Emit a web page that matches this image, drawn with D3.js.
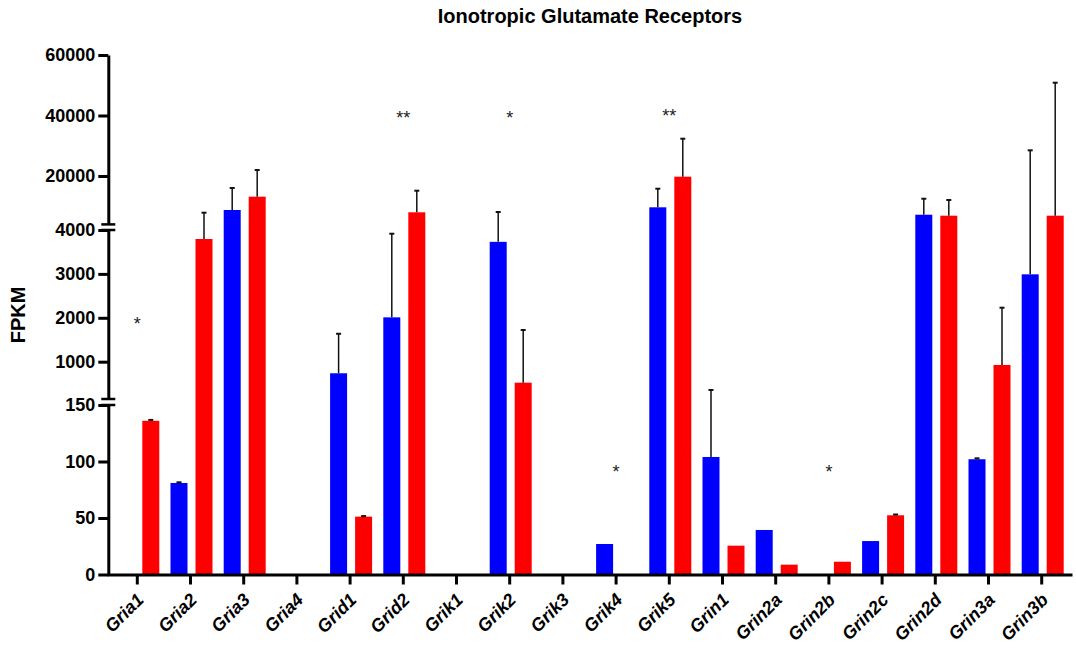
<!DOCTYPE html>
<html>
<head>
<meta charset="utf-8">
<script src="https://cdn.jsdelivr.net/npm/d3@7"></script>
<style>
  html, body { margin: 0; padding: 0; background: #fff; }
  svg { display: block; }
  text { font-family: "Liberation Sans", Arial, Helvetica, sans-serif; }
</style>
</head>
<body>
<div id="chart"></div>
<script>
// Genes on the x axis
const genes = ["Gria1", "Gria2", "Gria3", "Gria4", "Grid1", "Grid2", "Grik1", "Grik2", "Grik3",
               "Grik4", "Grik5", "Grin1", "Grin2a", "Grin2b", "Grin2c", "Grin2d", "Grin3a", "Grin3b"];

// Mean FPKM and SD, blue group
const blueMean = [0, 81, 8760, 0, 736, 2010, 0, 3730, 0, 27, 9650, 104, 39.4, 0, 29.6, 7200, 102, 2990];
const blueSD   = [0, 0.6, 7270, 0, 900, 1905, 0, 4370, 0, 0, 6150, 251, 0, 0, 0, 5290, 0.8, 25500];

// Mean FPKM and SD, red group
const redMean = [136, 3795, 13160, 0, 51.2, 8000, 0, 522, 0, 0, 19770, 25.5, 8.7, 11.3, 52.4, 6880, 925, 6880];
const redSD   = [0.8, 4070, 8820, 0, 0.5, 7140, 0, 1200, 0, 0, 12560, 0, 0, 0, 0.7, 5190, 1305, 43960];

// Significance marks
const sigGenes  = ["Gria1", "Grid2", "Grik2", "Grik4", "Grik5", "Grin2b"];
const sigLabels = ["*", "**", "*", "*", "**", "*"];
const sigLevels = [1950, 40800, 40800, 95, 41400, 95];

// Segmented y axis: tick values per segment
const ticksBottom = [0, 50, 100, 150];
const ticksMiddle = [1000, 2000, 3000, 4000];
const ticksTop    = [20000, 40000, 60000];

const width = 1076, height = 650;
const svg = d3.select("#chart").append("svg")
  .attr("width", width).attr("height", height);

// Three linear segments joined into one piecewise scale
const yBot = d3.scaleLinear().domain([0, 150]).range([574.5, 405]);
const yMid = d3.scaleLinear().domain([150, 4000]).range([399, 230]);
const yTop = d3.scaleLinear().domain([4000, 60000]).range([224.4, 55]);
const y = v => v <= 150 ? yBot(v) : (v <= 4000 ? yMid(v) : yTop(v));

const axisX = 108.3;
const x = d3.scaleBand().domain(genes).range([107, 1072]).paddingInner(0).paddingOuter(0.0695);
const sub = d3.scaleBand().domain(["blue", "red"]).range([-20, 22]).paddingInner(0.32);
const colors = { blue: "#0000ff", red: "#ff0000" };

const center = g => x(g) + x.bandwidth() / 2;

// Bars and error bars
const series = [
  { key: "blue", mean: blueMean, sd: blueSD },
  { key: "red",  mean: redMean,  sd: redSD }
];

series.forEach(s => {
  const rows = genes.map((g, i) => ({ g, v: s.mean[i], e: s.sd[i] })).filter(d => d.v > 0);
  const gs = svg.append("g");
  gs.selectAll("rect").data(rows).join("rect")
    .attr("x", d => center(d.g) + sub(s.key))
    .attr("width", sub.bandwidth())
    .attr("y", d => y(d.v))
    .attr("height", d => y(0) - y(d.v))
    .attr("fill", colors[s.key]);

  const errs = rows.filter(d => d.e > 0);
  const ex = d => center(d.g) + sub(s.key) + sub.bandwidth() / 2;
  gs.selectAll("line.stem").data(errs).join("line")
    .attr("class", "stem")
    .attr("x1", ex).attr("x2", ex)
    .attr("y1", d => y(d.v)).attr("y2", d => y(d.v + d.e))
    .attr("stroke", "#111").attr("stroke-width", 1.5);
  gs.selectAll("line.cap").data(errs).join("line")
    .attr("class", "cap")
    .attr("x1", d => ex(d) - 2.5).attr("x2", d => ex(d) + 2.5)
    .attr("y1", d => y(d.v + d.e)).attr("y2", d => y(d.v + d.e))
    .attr("stroke", "#111").attr("stroke-width", 2);
});

// Y axis segments
function styleAxis(g) {
  g.selectAll("path.domain").attr("stroke", "#000").attr("stroke-width", 3);
  g.selectAll(".tick line").attr("stroke", "#000").attr("stroke-width", 3);
  g.selectAll(".tick text").attr("fill", "#000")
    .style("font-size", "18px").style("font-weight", "bold")
    .style("font-family", "'Liberation Sans', Arial, sans-serif");
}

[[yBot, ticksBottom], [yMid, ticksMiddle], [yTop, ticksTop]].forEach(([sc, tv]) => {
  svg.append("g")
    .attr("transform", `translate(${axisX},0)`)
    .call(d3.axisLeft(sc).tickValues(tv).tickSize(10).tickSizeOuter(0).tickPadding(3).tickFormat(d3.format("d")))
    .call(styleAxis);
});

// Break marks at the segment ends
const breakEnds = [yBot.range()[1], yMid.range()[0], yMid.range()[1], yTop.range()[0]];
svg.append("g").selectAll("line").data(breakEnds).join("line")
  .attr("x1", axisX - 7).attr("x2", axisX + 7)
  .attr("y1", d => d).attr("y2", d => d)
  .attr("stroke", "#000").attr("stroke-width", 2.5);

// X axis
const gx = svg.append("g")
  .attr("transform", `translate(0,${y(0)})`)
  .call(d3.axisBottom(x).tickSize(10).tickSizeOuter(0));
gx.select("path.domain").attr("stroke", "#000").attr("stroke-width", 3);
gx.selectAll(".tick line").attr("stroke", "#000").attr("stroke-width", 3);
gx.selectAll(".tick text")
  .attr("fill", "#000")
  .attr("x", 0).attr("y", 0).attr("dy", "0.35em")
  .attr("text-anchor", "end")
  .attr("transform", "translate(3,22) rotate(-45)")
  .style("font-size", "18px").style("font-weight", "bold").style("font-style", "italic")
  .style("font-family", "'Liberation Sans', Arial, sans-serif");

// Significance asterisks
svg.append("g").selectAll("text").data(sigGenes.map((g, i) => ({ g, t: sigLabels[i], v: sigLevels[i] })))
  .join("text")
  .attr("x", d => center(d.g))
  .attr("y", d => y(d.v))
  .attr("dy", "0.58em")
  .attr("text-anchor", "middle")
  .style("font-size", "18px")
  .attr("fill", "#222")
  .text(d => d.t);

// Title
svg.append("text")
  .attr("x", 590).attr("y", 23)
  .attr("text-anchor", "middle")
  .style("font-size", "20px").style("font-weight", "bold")
  .text("Ionotropic Glutamate Receptors");

// Y axis title
svg.append("text")
  .attr("transform", "translate(25,315) rotate(-90)")
  .attr("text-anchor", "middle")
  .style("font-size", "20px").style("font-weight", "bold")
  .text("FPKM");
</script>
</body>
</html>
